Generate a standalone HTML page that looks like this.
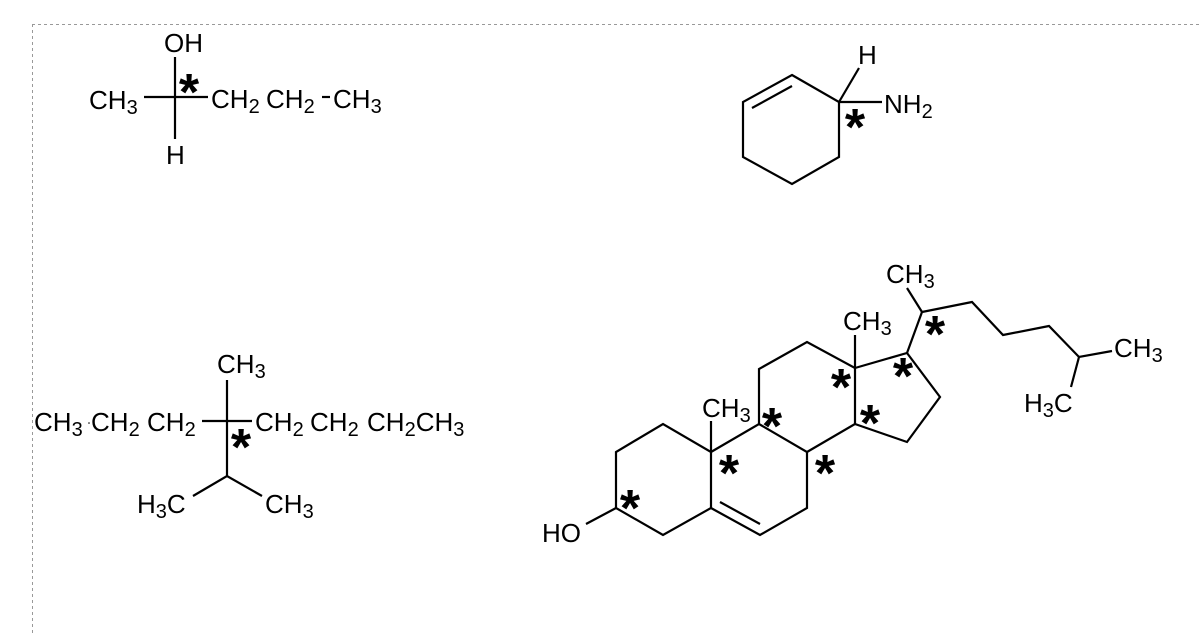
<!DOCTYPE html>
<html><head><meta charset="utf-8"><style>
html,body{margin:0;padding:0;background:#fff;}
svg{display:block;}
text{font-family:"Liberation Sans",Arial,sans-serif;font-size:26px;fill:#000;}
.s{font-size:20px;}
.a{font-size:52px;text-anchor:middle;font-weight:bold;}
</style></head><body>
<svg width="1199" height="634" viewBox="0 0 1199 634" xmlns="http://www.w3.org/2000/svg">
<g stroke="#999" stroke-width="1" stroke-dasharray="3,3" fill="none">
<line x1="32" y1="24.5" x2="1199" y2="24.5"/>
<line x1="32.5" y1="24" x2="32.5" y2="634"/>
</g>
<g stroke="#000" stroke-width="2.2" fill="none" stroke-linecap="butt">
<line x1="175" y1="57" x2="175" y2="139"/>
<line x1="144" y1="97" x2="208" y2="97"/>
<line x1="322" y1="97" x2="330" y2="97"/>
<polygon points="792,75 839,102 839,157 792,184 743,157 743,102"/>
<line x1="752" y1="108" x2="792" y2="86"/>
<line x1="839" y1="102" x2="859" y2="68"/>
<line x1="839" y1="102" x2="882" y2="102"/>
<line x1="227" y1="380" x2="227" y2="476"/>
<line x1="202" y1="421" x2="252" y2="421"/>
<polyline points="193,496 227,476 262,496"/>
<polygon points="616,508 616,452 663,424 711,452 711,508 663,535"/>
<polyline points="711,452 759,424 807,452 807,508 760,535 711,508"/>
<line x1="720" y1="502" x2="760" y2="524"/>
<line x1="586" y1="524" x2="616" y2="508"/>
<line x1="711" y1="452" x2="711" y2="421"/>
<polyline points="759,424 759,369 807,342 855,368 855,424 807,452"/>
<line x1="855" y1="368" x2="855" y2="335"/>
<polyline points="855,368 907,353 940,397 907,442 855,424"/>
<polyline points="907,353 922,312 972,302 1003,335 1049,326 1079,357 1112,351"/>
<line x1="922" y1="312" x2="907" y2="288"/>
<line x1="1079" y1="357" x2="1071" y2="387"/>
</g>
<text x="164" y="52">OH</text>
<text x="89" y="109">CH<tspan class="s" dy="5">3</tspan></text>
<text x="166" y="164">H</text>
<text x="211" y="108">CH<tspan class="s" dy="5">2</tspan></text>
<text x="266" y="108">CH<tspan class="s" dy="5">2</tspan></text>
<text x="333" y="108">CH<tspan class="s" dy="5">3</tspan></text>
<text class="a" x="189" y="110">*</text>
<text x="858" y="64">H</text>
<text x="884" y="113">NH<tspan class="s" dy="5">2</tspan></text>
<text class="a" x="855" y="145">*</text>
<text x="217" y="373">CH<tspan class="s" dy="5">3</tspan></text>
<text x="34" y="431">CH<tspan class="s" dy="5">3</tspan></text>
<circle cx="89" cy="423" r="0.8" fill="#000"/>
<text x="91" y="431">CH<tspan class="s" dy="5">2</tspan></text>
<text x="147" y="431">CH<tspan class="s" dy="5">2</tspan></text>
<text x="255" y="431">CH<tspan class="s" dy="5">2</tspan></text>
<text x="310" y="431">CH<tspan class="s" dy="5">2</tspan></text>
<text x="367" y="431">CH<tspan class="s" dy="5">2</tspan><tspan dy="-5">CH</tspan><tspan class="s" dy="5">3</tspan></text>
<text x="137" y="513">H<tspan class="s" dy="5">3</tspan><tspan dy="-5">C</tspan></text>
<text x="265" y="513">CH<tspan class="s" dy="5">3</tspan></text>
<text class="a" x="241" y="465">*</text>
<text x="542" y="542">HO</text>
<text x="702" y="417">CH<tspan class="s" dy="5">3</tspan></text>
<text x="843" y="330">CH<tspan class="s" dy="5">3</tspan></text>
<text x="886" y="283">CH<tspan class="s" dy="5">3</tspan></text>
<text x="1114" y="357">CH<tspan class="s" dy="5">3</tspan></text>
<text x="1024" y="412">H<tspan class="s" dy="5">3</tspan><tspan dy="-5">C</tspan></text>
<text class="a" x="630" y="526">*</text>
<text class="a" x="729" y="491">*</text>
<text class="a" x="772" y="444">*</text>
<text class="a" x="825" y="491">*</text>
<text class="a" x="841" y="405">*</text>
<text class="a" x="870" y="441">*</text>
<text class="a" x="903" y="394">*</text>
<text class="a" x="935" y="352">*</text>
</svg>
</body></html>
